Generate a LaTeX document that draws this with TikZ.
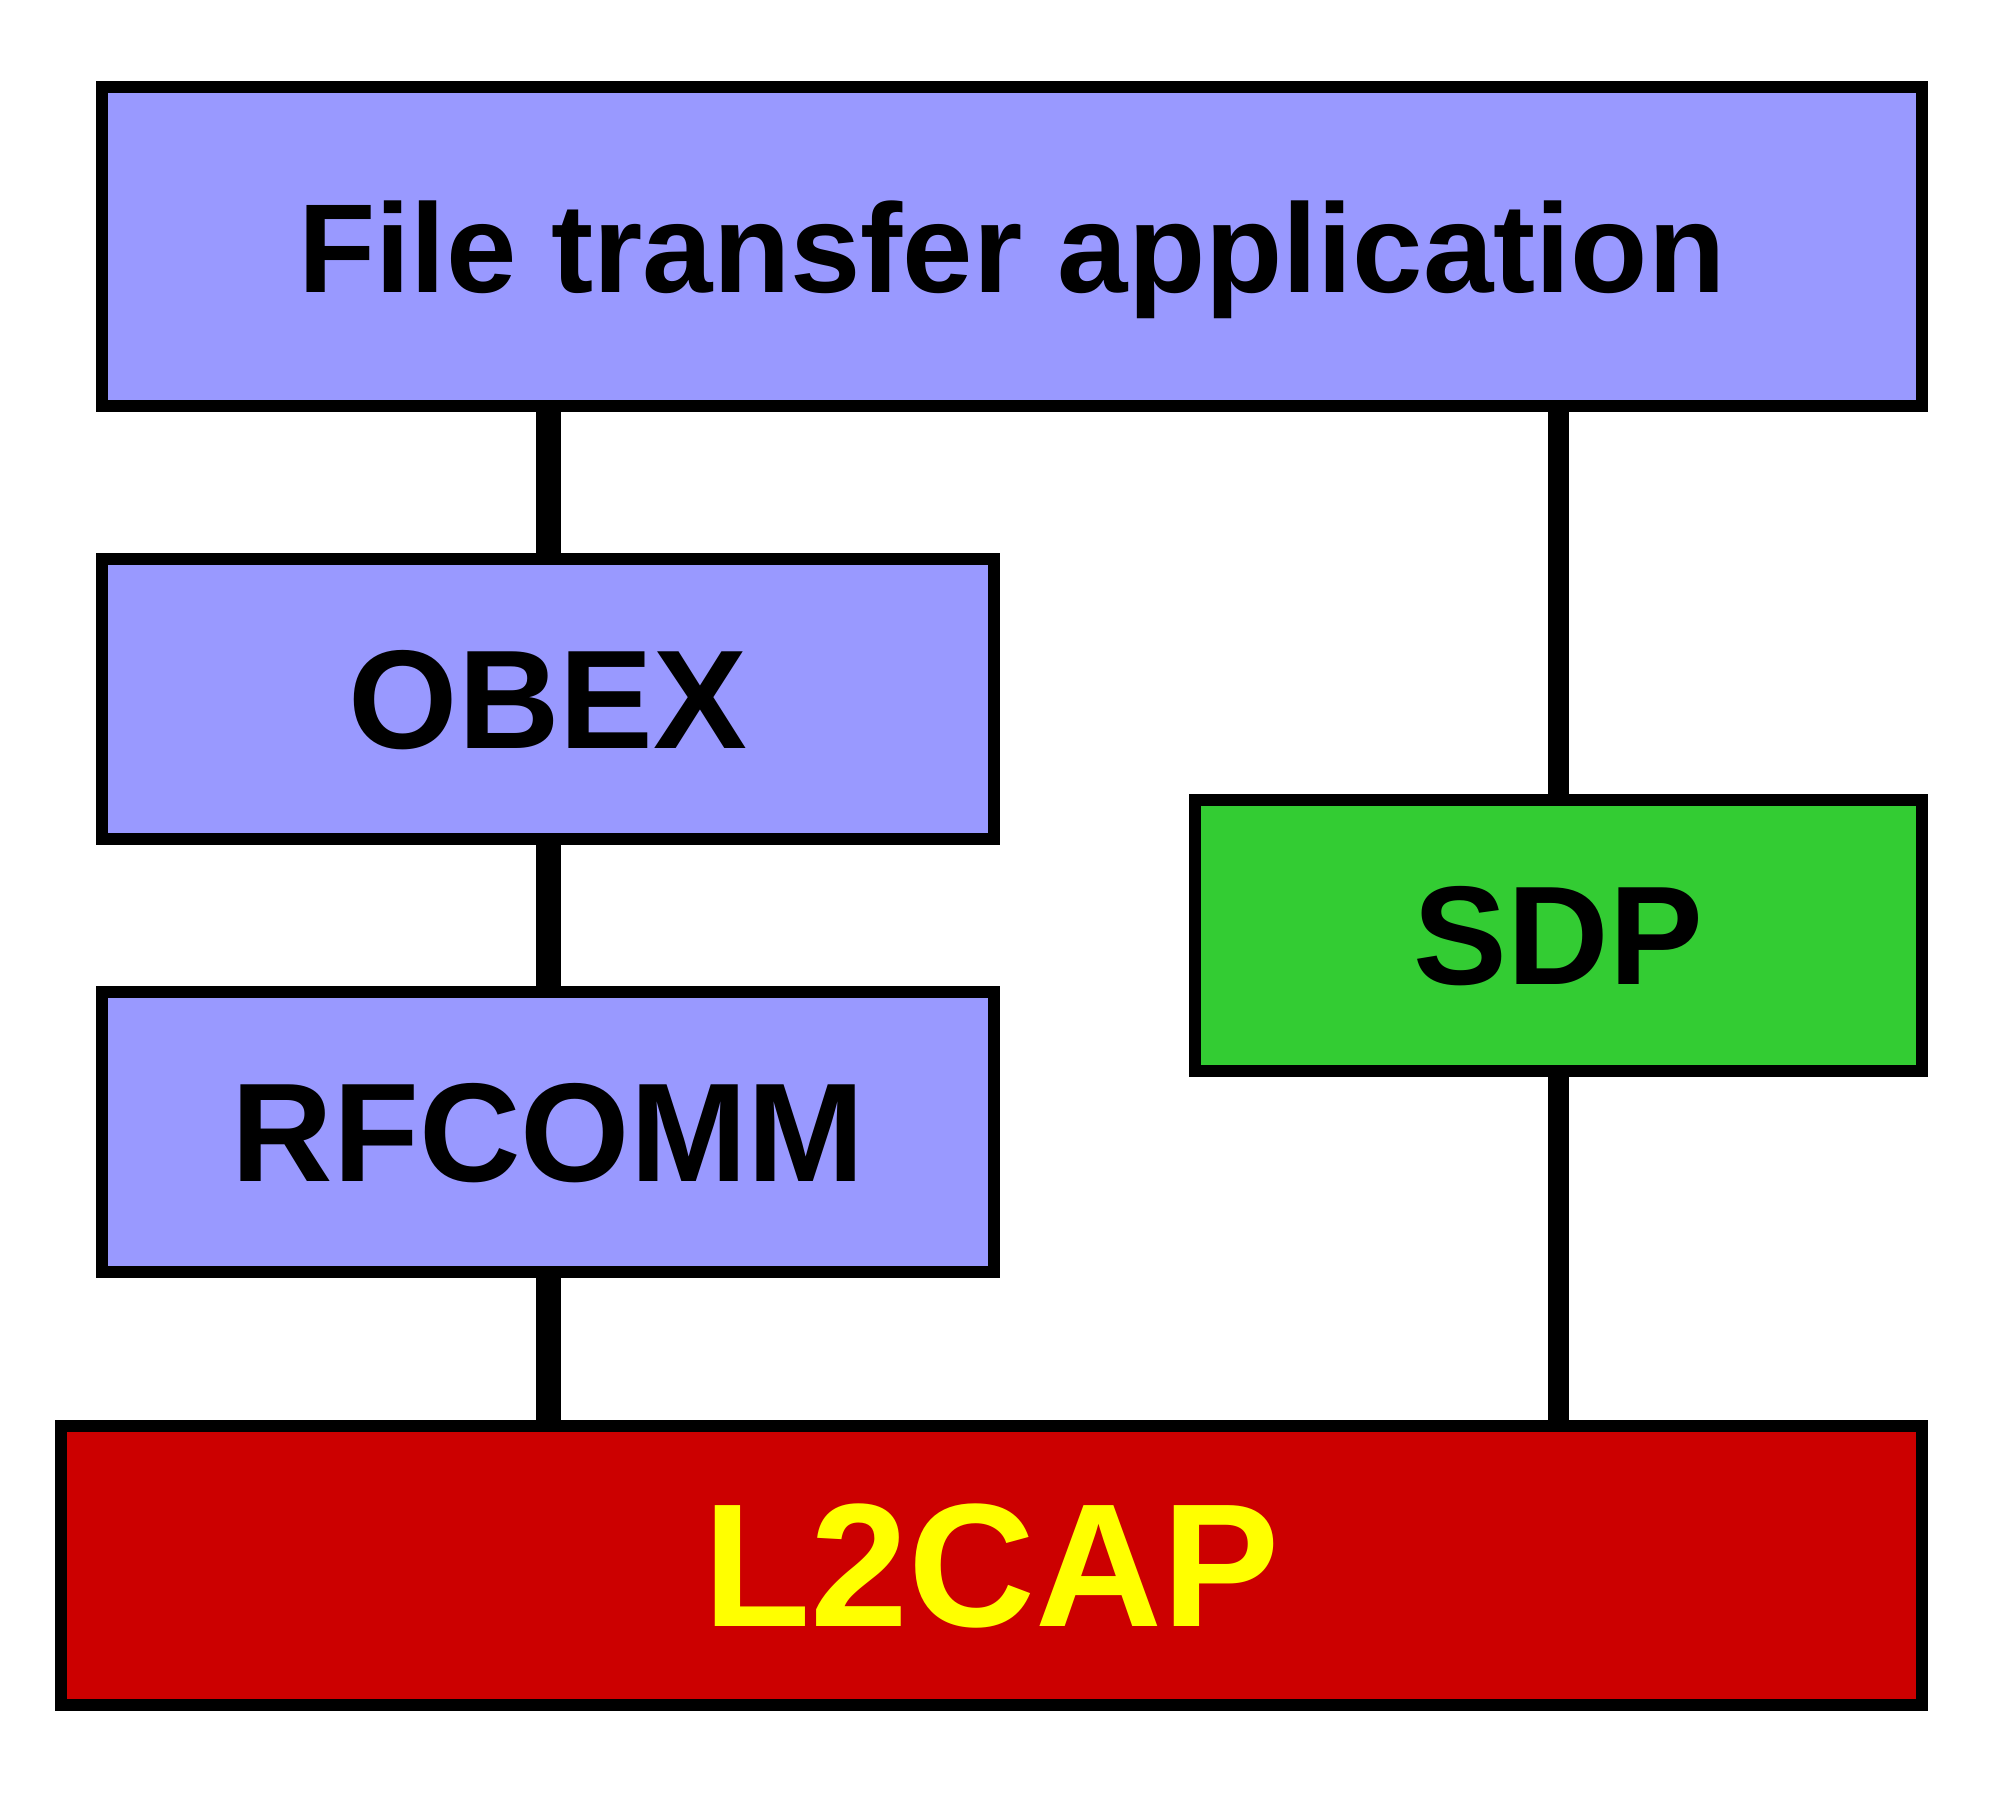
\documentclass[tikz,border=0pt]{standalone}
\usepackage{xcolor}
\usepackage{fontspec}
\setmainfont{Liberation Sans}
\definecolor{layerblue}{HTML}{9999FF}
\definecolor{sdpgreen}{HTML}{33CC33}
\definecolor{l2red}{HTML}{CC0000}
\definecolor{l2yellow}{HTML}{FFFF00}

\begin{document}
\begin{tikzpicture}[
    layer/.style={draw=black, line width=0.12cm, fill=layerblue, inner sep=0pt,
                  text depth=0pt, font=\bfseries\fontsize{40}{44}\selectfont},
    link/.style={line width=0.25cm},
    thinlink/.style={line width=0.21cm}]
    \useasboundingbox (0,0) rectangle (20,18.02);
    \node[layer, minimum width=18.2cm, minimum height=3.19cm,
          font=\bfseries\fontsize{36}{40}\selectfont] (app) at (10.12,15.555) {File transfer application};
    \node[layer, minimum width=8.92cm, minimum height=2.80cm] (obex) at (5.48,11.03) {OBEX};
    \node[layer, minimum width=8.92cm, minimum height=2.80cm] (rfcomm) at (5.48,6.70) {RFCOMM};
    \node[layer, fill=sdpgreen, minimum width=7.27cm, minimum height=2.71cm] (sdp) at (15.585,8.665) {SDP};
    \node[layer, fill=l2red, text=l2yellow, minimum width=18.61cm, minimum height=2.79cm,
          font=\bfseries\fontsize{50}{54}\selectfont] (l2cap) at (9.915,2.365) {L2CAP};
    \coordinate (obexup) at (obex.north |- app.south);
    \coordinate (rfdown) at (rfcomm.south |- l2cap.north);
    \coordinate (sdpup) at (sdp.north |- app.south);
    \coordinate (sdpdown) at (sdp.south |- l2cap.north);
    \draw[link] (obexup) -- (obex.north);
    \draw[link] (obex.south) -- (rfcomm.north);
    \draw[link] (rfcomm.south) -- (rfdown);
    \draw[thinlink] (sdpup) -- (sdp.north);
    \draw[thinlink] (sdp.south) -- (sdpdown);
\end{tikzpicture}
\end{document}
